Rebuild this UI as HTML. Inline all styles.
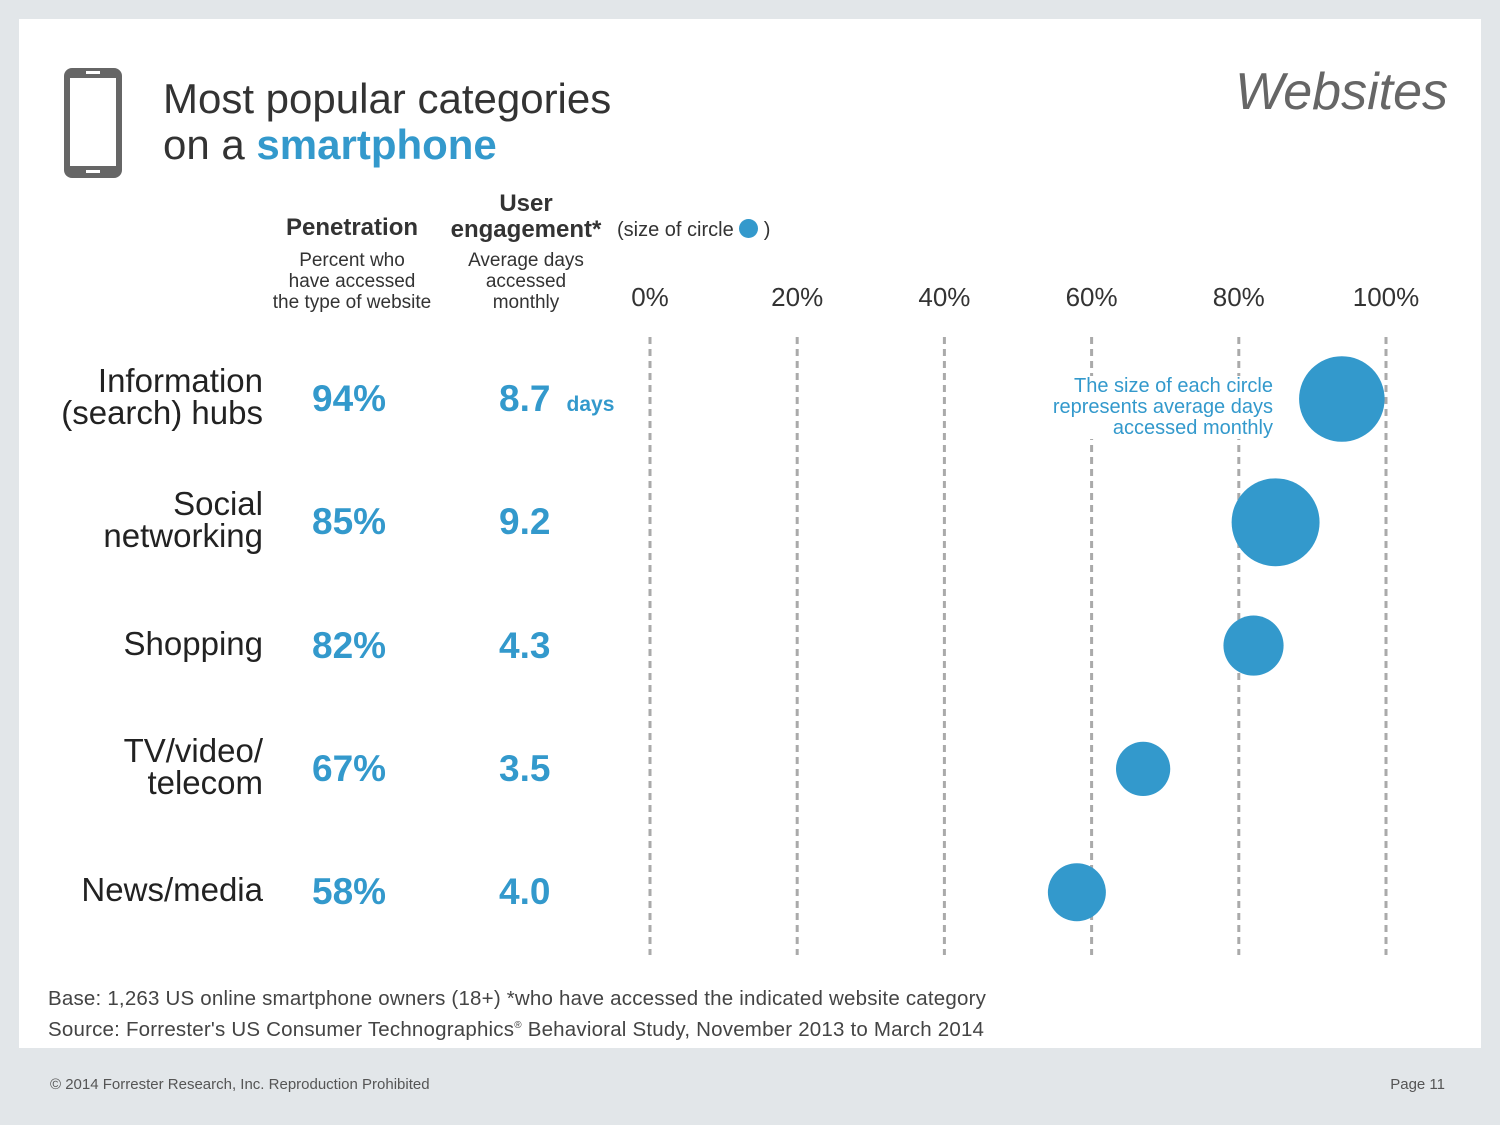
<!DOCTYPE html>
<html><head><meta charset="utf-8"><style>
body{margin:0;width:1500px;height:1125px;background:#e2e6e9;font-family:"Liberation Sans",sans-serif;position:relative;overflow:hidden}
.abs{position:absolute}
#panel{left:19px;top:19px;width:1462px;height:1029px;background:#fff}
.lab{color:#222;font-size:33px;text-align:right;line-height:32px;width:240px;left:23px}
.pct{color:#3399cc;font-size:37px;font-weight:bold;left:312px}
.eng{color:#3399cc;font-size:37px;font-weight:bold;left:499px}
.tick{font-size:26px;color:#333;width:100px;text-align:center}
</style></head><body>
<div class="abs" id="panel"></div>
<svg class="abs" style="left:62px;top:66px" width="62" height="114">
<rect x="2" y="2" width="58" height="110" rx="8" fill="#666"/><rect x="8" y="12" width="46" height="88" fill="#fff"/><rect x="24" y="5" width="14" height="3" fill="#fff"/><rect x="24" y="104" width="14" height="3" fill="#fff"/></svg>
<div class="abs" style="left:163px;top:76px;font-size:42px;color:#333;line-height:46px">Most popular categories<br>on a <b style="color:#3399cc">smartphone</b></div>
<div class="abs" style="right:52px;top:62px;font-size:52px;color:#666;font-style:italic">Websites</div>
<div class="abs" style="left:262px;top:214px;width:180px;text-align:center;font-size:24px;font-weight:bold;color:#333">Penetration</div>
<div class="abs" style="left:252px;top:250px;width:200px;text-align:center;font-size:19px;line-height:21px;color:#333">Percent who<br>have accessed<br>the type of website</div>
<div class="abs" style="left:436px;top:191px;width:180px;text-align:center;font-size:24px;font-weight:bold;color:#333;line-height:26px">User<br>engagement*</div>
<div class="abs" style="left:617px;top:219px;font-size:20px;color:#333">(size of circle <span style="display:inline-block;width:19px;height:19px;border-radius:50%;background:#3399cc;vertical-align:-2px"></span> )</div>
<div class="abs" style="left:436px;top:250px;width:180px;text-align:center;font-size:19px;line-height:21px;color:#333">Average days<br>accessed<br>monthly</div>
<svg class="abs" id="chart" style="left:0;top:0" width="1500" height="1125"></svg>
<div class="abs" style="left:1030px;top:376px;width:243px;text-align:right;font-size:20px;line-height:21px;color:#3399cc;background:#fff">The size of each circle<br>represents average days<br>accessed monthly</div>
<div id="labels"></div>
<div class="abs" style="left:48px;top:985px;font-size:20.5px;color:#444;line-height:27px;letter-spacing:0.2px">Base: 1,263 US online smartphone owners (18+) *who have accessed the indicated website category<br>Source: Forrester's US Consumer Technographics<sup style="font-size:10px">®</sup> Behavioral Study, November 2013 to March 2014</div>
<div class="abs" style="left:50px;top:1076px;font-size:15px;color:#555">© 2014 Forrester Research, Inc. Reproduction Prohibited</div>
<div class="abs" style="right:55px;top:1076px;font-size:15px;color:#555">Page 11</div>
<script>
const categories=["Information<br>(search) hubs","Social<br>networking","Shopping","TV/video/<br>telecom","News/media"];
const penetration=[94,85,82,67,58];
const engagement=[8.7,9.2,4.3,3.5,4.0];
const ticks=[0,20,40,60,80,100];
const x=v=>650+v*7.36;
const rowY=i=>399+i*123.3;
const r=d=>14.5*Math.sqrt(d);
const svg=document.getElementById('chart');
const NS='http://www.w3.org/2000/svg';
const L=document.getElementById('labels');
ticks.forEach(t=>{
 const l=document.createElementNS(NS,'line');
 l.setAttribute('x1',x(t));l.setAttribute('x2',x(t));l.setAttribute('y1',337);l.setAttribute('y2',955);
 l.setAttribute('stroke','#aaa');l.setAttribute('stroke-width',3);l.setAttribute('stroke-dasharray','7,5');
 
 
 svg.appendChild(l);
 const d=document.createElement('div');d.className='abs tick';d.style.left=(x(t)-50)+'px';d.style.top='282px';d.textContent=t+'%';
 
 
 L.appendChild(d);
});
categories.forEach((c,i)=>{
 const y=rowY(i);
 const ci=document.createElementNS(NS,'circle');
 ci.setAttribute('cx',x(penetration[i]));ci.setAttribute('cy',y);ci.setAttribute('r',r(engagement[i]));ci.setAttribute('fill','#3399cc');
 
 
 svg.appendChild(ci);
 const two=c.includes('<br>');
 const a=document.createElement('div');a.className='abs lab';a.innerHTML=c;a.style.top=(two?y-34:y-18)+'px';
 
 
 L.appendChild(a);
 const p=document.createElement('div');p.className='abs pct';p.textContent=penetration[i]+'%';p.style.top=(y-21)+'px';
 
 
 L.appendChild(p);
 const e=document.createElement('div');e.className='abs eng';e.innerHTML=engagement[i].toFixed(1)+(i==0?' <span style="font-size:21px">&nbsp;days</span>':'');e.style.top=(y-21)+'px';
 
 
 L.appendChild(e);
});
</script>
</body></html>
